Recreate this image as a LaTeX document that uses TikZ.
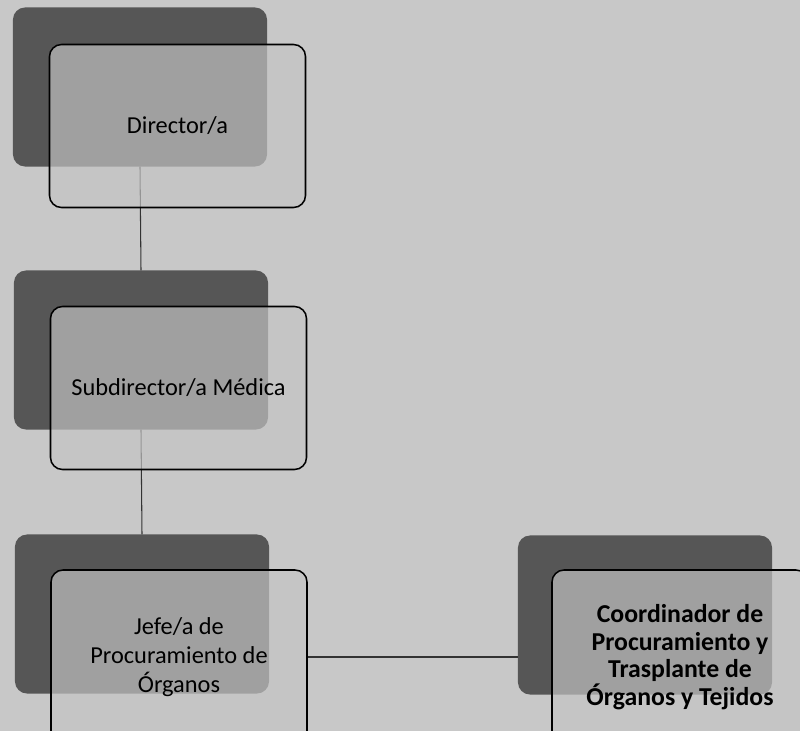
\documentclass[tikz,border=0pt]{standalone}
\usepackage{fontspec}
\setmainfont{Carlito}
\usetikzlibrary{calc}

\definecolor{paper}{RGB}{200,200,200}
\definecolor{shadowgray}{RGB}{86,86,86}
\definecolor{cardgray}{RGB}{197,197,197}

\begin{document}
\begin{tikzpicture}[x=0.03cm, y=-0.03cm,
dark_box/.style={rectangle, rounded corners=3.6mm, fill=shadowgray, draw=none, minimum width=7.62cm, minimum height=4.77cm},
light_box/.style={rectangle, rounded corners=3.6mm, fill=cardgray, fill opacity=0.67, text opacity=1, draw=black, line width=1.3pt, minimum width=7.68cm, minimum height=4.89cm, align=center, font=\fontsize{20.8}{24.5}\selectfont},
low_box/.style={light_box, minimum height=5.22cm},
link_style/.style={line width=0.9pt, black!80},
]

	% page and margins
	\fill[paper] (0,0) rectangle (800,731);
	\useasboundingbox (0,0) rectangle (800,731);

	% back cards
	\node[dark_box] (dir_back) at (140,87) {};
	\node[dark_box] (sub_back) at (141,350) {};
	\node[dark_box] (jefe_back) at (142,614) {};
	\node[dark_box] (coord_back) at (645,615) {};

	% lines behind the front cards
	\draw[link_style] (dir_back.south) -- (sub_back.north);
	\draw[link_style] (sub_back.south) -- (jefe_back.north);

	% front cards
	\node[light_box] (dir) at (177.5,126) {Director/a};
	\node[light_box] (sub) at (178.5,388) {Subdirector/a Médica};
	\node[low_box] (jefe) at (179,657) {Jefe/a de\\Procuramiento de\\Órganos};
	\node[low_box, font=\fontsize{22}{23.6}\selectfont\bfseries] (coord) at (680,657) {Coordinador de\\Procuramiento y\\Trasplante de\\Órganos y Tejidos};

	\draw[link_style] (jefe.east) -- (jefe.east -| coord_back.west);

\end{tikzpicture}
\end{document}
